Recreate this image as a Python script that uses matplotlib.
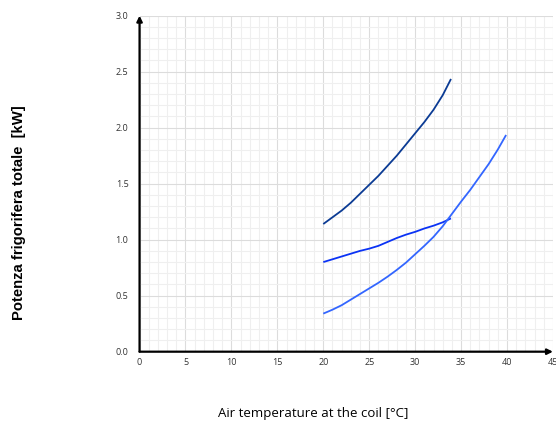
import numpy as np
import matplotlib
matplotlib.use('Agg')
import matplotlib.pyplot as plt
from matplotlib.ticker import MultipleLocator

# cooling capacity curves, temperatures in degC, power in kW
temp_a = [20, 21, 22, 23, 24, 25, 26, 27, 28, 29, 30, 31, 32, 33, 33.9]
power_a = [1.14, 1.20, 1.26, 1.33, 1.41, 1.49, 1.57, 1.66, 1.75, 1.85, 1.95,
           2.05, 2.16, 2.29, 2.435]

temp_b = [20, 21, 22, 23, 24, 25, 26, 27, 28, 29, 30, 31, 32, 33, 33.9]
power_b = [0.80, 0.825, 0.85, 0.875, 0.90, 0.92, 0.945, 0.98, 1.015, 1.045,
           1.07, 1.10, 1.125, 1.155, 1.19]

temp_c = [20, 21, 22, 23, 24, 25, 26, 27, 28, 29, 30, 31, 32, 33, 34, 35,
          36, 37, 38, 39, 39.9]
power_c = [0.34, 0.375, 0.415, 0.465, 0.515, 0.565, 0.615, 0.67, 0.73, 0.795,
           0.87, 0.945, 1.025, 1.12, 1.23, 1.34, 1.445, 1.56, 1.675, 1.805,
           1.935]

x_ticks = [0, 5, 10, 15, 20, 25, 30, 35, 40, 45]
y_ticks = [0.0, 0.5, 1.0, 1.5, 2.0, 2.5, 3.0]

fig = plt.figure(figsize=(5.56, 4.25), dpi=100)
ax = fig.add_axes([0.2510, 0.1725, 0.7435, 0.7906])

ax.plot(temp_a, power_a, color='#0b3b94', lw=1.3, solid_capstyle='butt')
ax.plot(temp_b, power_b, color='#0b33f5', lw=1.3, solid_capstyle='butt')
ax.plot(temp_c, power_c, color='#3366ff', lw=1.3, solid_capstyle='butt')

ax.set_xlim(0, 45)
ax.set_ylim(0, 3.0)
ax.set_xticks(x_ticks)
ax.set_yticks(y_ticks)
ax.set_yticklabels(['%.1f' % v for v in y_ticks])
ax.xaxis.set_minor_locator(MultipleLocator(1))
ax.yaxis.set_minor_locator(MultipleLocator(0.1))
ax.grid(which='major', color='#dcdcdc', lw=0.8)
ax.grid(which='minor', color='#efefef', lw=0.8)
ax.set_axisbelow(True)
ax.tick_params(which='both', length=0)
ax.tick_params(axis='both', labelsize=6.5, labelcolor='#333333')
ax.tick_params(axis='x', pad=4.5)
ax.tick_params(axis='y', pad=8)
for lab in ax.get_xticklabels() + ax.get_yticklabels():
    lab.set_family('Open Sans')

for s in ax.spines.values():
    s.set_visible(False)

# axes drawn as arrows
ax.annotate('', xy=(0, 3.0), xytext=(0, 0), xycoords='data',
            arrowprops=dict(arrowstyle='-|>', color='black', lw=1.6,
                            mutation_scale=8, shrinkA=0, shrinkB=0),
            annotation_clip=False)
ax.annotate('', xy=(45, 0), xytext=(0, 0), xycoords='data',
            arrowprops=dict(arrowstyle='-|>', color='black', lw=1.6,
                            mutation_scale=8, shrinkA=0, shrinkB=0),
            annotation_clip=False)

fig.text(0.0333, 0.500, 'Potenza frigorifera totale  [kW]', rotation=90,
         ha='center', va='center', fontsize=10.7, fontweight='bold',
         family='Liberation Sans')
fig.text(0.563, 0.026, 'Air temperature at the coil [°C]', ha='center',
         va='center', fontsize=9.5, family='Open Sans')

fig.savefig('out.png', dpi=100)
